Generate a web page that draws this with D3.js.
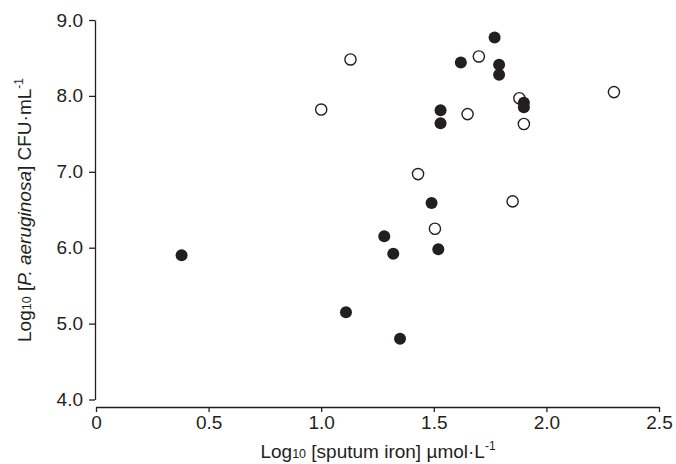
<html>
<head>
<meta charset="utf-8">
<style>
  body { margin: 0; background: #fff; }
  svg text { font-family: "Liberation Sans", Arial, sans-serif; fill: #231f20; }
  .axis path, .axis line { stroke: #231f20; stroke-width: 1.3px; }
  .axis text { font-size: 19px; }
  .title { font-size: 19px; }
</style>
</head>
<body>
<script src="https://cdn.jsdelivr.net/npm/d3@7"></script>
<script>
// filled circles
var filledX = [0.38, 1.11, 1.28, 1.32, 1.35, 1.52, 1.49, 1.53, 1.53, 1.62, 1.77, 1.79, 1.79, 1.90, 1.90];
var filledY = [5.90, 5.15, 6.15, 5.92, 4.80, 5.98, 6.59, 7.81, 7.64, 8.44, 8.77, 8.41, 8.28, 7.91, 7.85];
// open circles
var openX = [1.00, 1.13, 1.43, 1.505, 1.65, 1.70, 1.85, 1.88, 1.90, 2.30];
var openY = [7.82, 8.48, 6.97, 6.25, 7.76, 8.52, 6.61, 7.97, 7.63, 8.05];

var xTicks = [0, 0.5, 1.0, 1.5, 2.0, 2.5];
var yTicks = [4, 5, 6, 7, 8, 9];

var svg = d3.select("body").append("svg")
    .attr("width", 676)
    .attr("height", 464);

var x = d3.scaleLinear().domain([0, 2.5]).range([96, 659]);
var y = d3.scaleLinear().domain([4, 9]).range([399.5, 20]);

// y axis (offset from x axis)
svg.append("g")
    .attr("class", "axis")
    .attr("transform", "translate(95,0)")
    .call(d3.axisLeft(y).tickValues(yTicks).tickSize(6).tickSizeOuter(0).tickPadding(6)
      .tickFormat(function(d) { return d.toFixed(1); }));

// x axis
svg.append("g")
    .attr("class", "axis")
    .attr("transform", "translate(0,407)")
    .call(d3.axisBottom(x).tickValues(xTicks).tickSize(5).tickSizeOuter(0).tickPadding(4)
      .tickFormat(function(d) { return d === 0 ? "0" : d.toFixed(1); }));

svg.selectAll(".axis .domain").attr("fill", "none");

// x title
var xt = svg.append("text")
    .attr("class", "title")
    .attr("x", 378)
    .attr("y", 458)
    .attr("text-anchor", "middle");
xt.append("tspan").text("Log");
xt.append("tspan").attr("font-size", "12.5px").text("10");
xt.append("tspan").text(" [sputum iron] \u00b5mol\u00b7L");
xt.append("tspan").attr("font-size", "12px").attr("dy", -8).text("-1");

// y title
var yt = svg.append("text")
    .attr("class", "title")
    .attr("transform", "translate(31,210) rotate(-90)")
    .attr("text-anchor", "middle");
yt.append("tspan").text("Log");
yt.append("tspan").attr("font-size", "12.5px").text("10");
yt.append("tspan").text(" [");
yt.append("tspan").attr("font-style", "italic").text("P. aeruginosa");
yt.append("tspan").text("] CFU\u00b7mL");
yt.append("tspan").attr("font-size", "12px").attr("dy", -8).text("-1");

// open circles first, filled on top
svg.append("g").selectAll("circle")
    .data(openX.map(function(d, i) { return [d, openY[i]]; }))
    .enter().append("circle")
    .attr("cx", function(d) { return x(d[0]); })
    .attr("cy", function(d) { return y(d[1]); })
    .attr("r", 5.6)
    .attr("fill", "#fff")
    .attr("stroke", "#231f20")
    .attr("stroke-width", 1.4);

svg.append("g").selectAll("circle")
    .data(filledX.map(function(d, i) { return [d, filledY[i]]; }))
    .enter().append("circle")
    .attr("cx", function(d) { return x(d[0]); })
    .attr("cy", function(d) { return y(d[1]); })
    .attr("r", 6)
    .attr("fill", "#231f20");
</script>
</body>
</html>
